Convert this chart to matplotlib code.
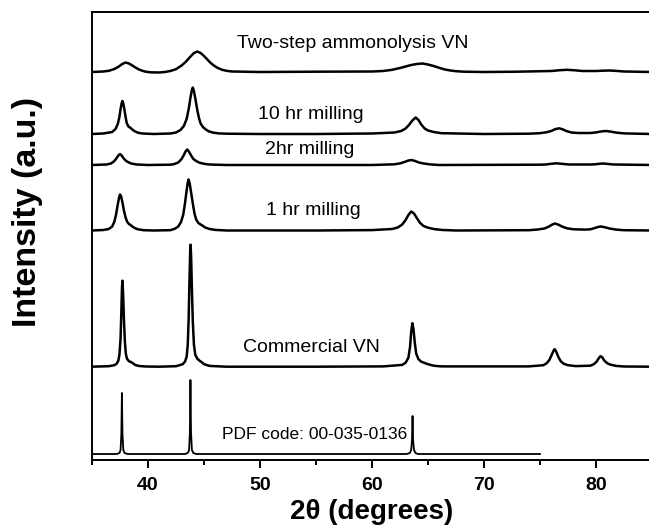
import matplotlib.pyplot as plt
from matplotlib.ticker import MultipleLocator

# XRD patterns: (2theta, intensity above own baseline)
two_step_x = [35.0, 36.0, 36.5, 37.0, 37.4, 37.7, 38.0, 38.3, 38.6, 38.9, 39.2, 39.5, 39.8,
              40.2, 41.0, 41.5, 42.0, 42.5, 43.0, 43.4, 43.8, 44.1, 44.4, 44.7, 45.0, 45.3,
              45.6, 45.9, 46.2, 46.6, 47.0, 47.5, 50.0, 55.0, 60.0, 61.0, 61.8, 62.5, 63.0,
              63.5, 64.0, 64.5, 65.0, 65.5, 66.0, 66.5, 67.0, 67.5, 68.2, 70.0, 73.0, 76.0,
              76.8, 77.4, 78.0, 78.8, 80.0, 80.6, 81.2, 81.8, 82.5, 85.0]
two_step_y = [0, 0.5, 1.2, 3, 5.5, 8, 9.5, 8.5, 6.5, 4.3, 2.5, 1.2, 0.3,
              -0.3, -0.5, 0, 1, 2.8, 6.5, 10.5, 15.5, 19, 20.5, 19, 16, 12.5,
              9, 6.3, 4.2, 2.3, 1.2, 0.5, 0, 0.3, 0.5, 1, 2.2, 4, 5.5,
              7, 8, 8.5, 7.5, 6, 4.2, 2.5, 1.5, 0.8, 0.3, 0, 0.3, 1,
              1.8, 2.2, 1.8, 1, 1, 1.3, 1.5, 1.1, 0.5, 0]

mill10_x = [35.0, 36.0, 36.8, 37.1, 37.3, 37.45, 37.55, 37.65, 37.72, 37.8, 37.9, 38.0, 38.1,
            38.25, 38.45, 38.6, 38.8, 39.1, 39.5, 40.5, 42.0, 42.5, 42.9, 43.2, 43.45, 43.65,
            43.8, 43.92, 44.0, 44.1, 44.25, 44.4, 44.55, 44.7, 44.9, 45.1, 45.4, 45.8, 46.3,
            47.0, 50.0, 55.0, 60.0, 62.0, 62.6, 63.0, 63.3, 63.6, 63.9, 64.15, 64.4, 64.7,
            65.0, 65.5, 66.2, 70.0, 74.0, 75.0, 75.6, 76.0, 76.35, 76.7, 77.0, 77.35, 77.8,
            78.4, 79.5, 80.0, 80.5, 80.9, 81.3, 81.8, 82.5, 85.0]
mill10_y = [0, 0.5, 2, 5, 10, 17, 25, 31, 33, 30, 24, 17, 11,
            7.5, 6, 4.5, 2.8, 1.3, 0.5, 0, 0.5, 1.5, 4, 8, 15, 26,
            37, 44, 46.5, 43, 34, 24, 16, 10.5, 7, 5, 2.8, 1.4, 0.6,
            0.3, 0, 0, 0.5, 1.5, 3, 5.5, 9, 13.5, 16.5, 14, 9.5, 5.5,
            3.5, 2, 0.8, 0, 0.3, 0.8, 1.8, 3, 4.8, 5.7, 4.8, 3, 1.5,
            1, 1, 1.6, 2.6, 3, 2.4, 1.4, 0.6, 0]

mill2_x = [35.0, 36.3, 36.7, 37.0, 37.2, 37.35, 37.5, 37.65, 37.8, 38.0, 38.2, 38.5, 39.0,
           40.0, 42.0, 42.3, 42.7, 43.0, 43.2, 43.35, 43.5, 43.65, 43.85, 44.05, 44.3, 44.6,
           45.0, 45.5, 47.0, 60.0, 62.0, 62.5, 62.9, 63.2, 63.5, 63.8, 64.2, 64.6, 65.2,
           66.0, 75.0, 75.5, 76.0, 76.5, 77.0, 77.6, 79.5, 79.8, 80.2, 80.6, 81.0, 81.6,
           85.0]
mill2_y = [0, 0.5, 1.5, 4, 7, 9.5, 11, 9.5, 7, 4.5, 3, 1.5, 0.5,
           0, 0.3, 0.8, 2.5, 6, 10, 13.5, 15.5, 13.5, 9.5, 6, 4, 2.3,
           1.2, 0.5, 0, 0, 0.7, 1.6, 3, 4.3, 5, 4.2, 2.5, 1.5, 0.6,
           0, 0.3, 0.5, 1.2, 1.7, 1.1, 0.5, 0.5, 0.6, 1.1, 1.5, 1.1, 0.5,
           0]

mill1_x = [35.0, 36.0, 36.5, 36.8, 37.0, 37.15, 37.3, 37.42, 37.5, 37.6, 37.72, 37.85, 38.0,
           38.15, 38.3, 38.45, 38.6, 38.8, 39.1, 39.6, 40.5, 42.0, 42.4, 42.7, 42.95, 43.15,
           43.3, 43.45, 43.55, 43.62, 43.72, 43.85, 44.0, 44.15, 44.3, 44.5, 44.7, 44.85,
           45.1, 45.5, 46.0, 47.0, 55.0, 60.0, 61.8, 62.3, 62.7, 63.0, 63.25, 63.5, 63.75,
           64.0, 64.3, 64.6, 65.0, 65.6, 66.3, 67.5, 74.0, 74.8, 75.4, 75.8, 76.1, 76.35,
           76.65, 77.0, 77.4, 78.0, 79.0, 79.5, 79.9, 80.2, 80.45, 80.8, 81.2, 81.8, 82.5,
           85.0]
mill1_y = [0, 0.5, 1.5, 4, 9, 16, 26, 33, 36, 34, 28, 20, 13,
           8.5, 6.5, 5.5, 4, 2.5, 1.2, 0.3, 0, 0.3, 1.8, 4, 8.5, 16,
           27, 40, 48, 51, 47, 38, 27, 17, 11, 7.5, 6, 5,
           3, 1.5, 0.6, 0, 0, 0.4, 1.5, 3, 6, 10.5, 15.5, 19, 17,
           12.5, 7.5, 4.5, 2.8, 1.3, 0.5, 0, 0.3, 1, 2, 4, 6, 7,
           5.8, 3.8, 2.2, 1.2, 0.9, 1.2, 2.5, 3.6, 4, 3.2, 2, 0.9, 0.3,
           0]

comm_x = [35.0, 36.5, 37.0, 37.2, 37.35, 37.45, 37.55, 37.62, 37.68, 37.72, 37.78, 37.85,
          37.93, 38.02, 38.12, 38.3, 38.5, 38.65, 38.85, 39.2, 39.8, 41.0, 42.5, 43.1, 43.3,
          43.45, 43.55, 43.63, 43.7, 43.76, 43.8, 43.85, 43.92, 44.0, 44.1, 44.22, 44.4,
          44.6, 44.8, 45.0, 45.5, 47.0, 55.0, 61.0, 62.7, 63.0, 63.25, 63.4, 63.5, 63.6,
          63.7, 63.82, 63.95, 64.15, 64.4, 64.75, 65.0, 65.5, 66.2, 74.0, 75.3, 75.6, 75.85,
          76.05, 76.25, 76.32, 76.45, 76.65, 76.85, 77.1, 77.5, 78.2, 79.5, 79.8, 80.05,
          80.25, 80.4, 80.55, 80.75, 81.0, 81.3, 81.8, 82.5, 85.0]
comm_y = [0, 0.5, 1.5, 3, 6, 12, 28, 55, 80, 86, 72, 48,
          26, 13, 8, 5.5, 4.5, 3.5, 1.8, 0.7, 0.2, 0, 0.5, 2.5, 5,
          10, 22, 48, 85, 113, 122, 110, 78, 45, 22, 12, 8,
          6, 4.5, 2.5, 0.8, 0, 0, 0.3, 1.8, 4, 9, 20, 35, 43.5,
          38, 24, 13, 7.5, 5, 3.5, 2.5, 1, 0.3, 0.3, 1.5, 3.5, 7,
          12, 17, 17.5, 15, 9.5, 5.5, 3, 1.5, 0.6, 1, 2.5, 5,
          8.5, 10.5, 9.5, 6, 3.5, 2, 0.8, 0.2, 0]

pdf_x = [35.0, 37.2, 37.45, 37.55, 37.62, 37.67, 37.72, 37.8, 37.9, 38.2, 43.3, 43.55, 43.67,
         43.74, 43.79, 43.84, 43.92, 44.05, 44.3, 63.1, 63.38, 63.5, 63.57, 63.62, 63.67,
         63.75, 63.88, 64.1, 75.0]
pdf_y = [0, 0, 1, 4, 20, 61, 20, 4, 1, 0, 0, 1, 4,
         22, 74, 22, 4, 1, 0, 0, 1, 4, 14, 38, 14,
         4, 1, 0, 0]

# stacking offsets (same units as the intensities)
offsets = [388, 326, 295, 229.5, 93.3, 6]
labels = ['Two-step ammonolysis VN', '10 hr milling', '2hr milling', '1 hr milling',
          'Commercial VN', 'PDF code: 00-035-0136']
label_x = [47.95, 49.8, 50.45, 50.5, 48.5, 46.6]
label_y = [412, 341, 306, 245, 108.5, 21]

series = [(two_step_x, two_step_y), (mill10_x, mill10_y), (mill2_x, mill2_y),
          (mill1_x, mill1_y), (comm_x, comm_y), (pdf_x, pdf_y)]

plt.rcParams['font.family'] = ['Liberation Sans', 'DejaVu Sans']

fig = plt.figure(figsize=(6.49, 5.27), dpi=100)
ax = fig.add_axes([92 / 649, 67 / 527, 560 / 649, 448 / 527])

for i, (xs, ys) in enumerate(series):
    lw = 1.3 if i == 5 else 1.8
    ax.plot(xs, [v + offsets[i] for v in ys], color='black', lw=lw,
            solid_joinstyle='round')
    size = 12.5 if i == 5 else 14
    ax.text(label_x[i], label_y[i], labels[i], fontsize=size, ha='left', va='baseline')

ax.set_xlim(35, 85)
ax.set_ylim(0, 448)
ax.spines['right'].set_visible(False)
for s in ['left', 'top', 'bottom']:
    ax.spines[s].set_linewidth(1.4)
ax.set_yticks([])
ax.xaxis.set_major_locator(MultipleLocator(10))
ax.xaxis.set_minor_locator(MultipleLocator(5))
ax.tick_params(axis='x', which='major', direction='out', length=6, width=1.4,
               labelsize=14, pad=6)
ax.tick_params(axis='x', which='minor', direction='out', length=3.5, width=1.4)
for lab in ax.get_xticklabels():
    lab.set_fontweight('bold')

ax.set_xlabel('2\u03b8 (degrees)', fontsize=20, fontweight='bold', labelpad=4)
ax.set_ylabel('Intensity (a.u.)', fontsize=24.5, fontweight='bold')
ax.yaxis.set_label_coords(-0.088, 0.554)

fig.savefig('out.png', dpi=100)
